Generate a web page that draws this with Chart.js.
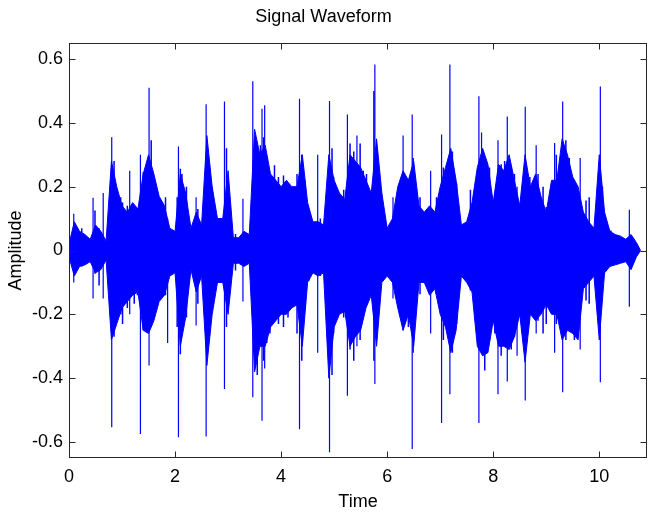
<!DOCTYPE html>
<html>
<head>
<meta charset="utf-8">
<script src="https://cdn.jsdelivr.net/npm/chart.js@4.4.1/dist/chart.umd.min.js"></script>
<style>
html,body{margin:0;padding:0;background:#fff;}
#wrap{width:649px;height:516px;}
</style>
</head>
<body>
<div id="wrap"><canvas id="c" width="649" height="516"></canvas></div>
<script>
const chartTitle = 'Signal Waveform';
const xTitle = 'Time';
const yTitle = 'Amplitude';
const xTicks = [0, 2, 4, 6, 8, 10];
const xTickLabels = ['0', '2', '4', '6', '8', '10'];
const yTicks = [-0.6, -0.4, -0.2, 0, 0.2, 0.4, 0.6];
const yTickLabels = ['-0.6', '-0.4', '-0.2', '0', '0.2', '0.4', '0.6'];

// Dense core of the waveform: envelope per 0.1 s bin
const binTimes = [0.0,0.1,0.2,0.3,0.4,0.5,0.6,0.7,0.8,0.9,1.0,1.1,1.2,1.3,1.4,1.5,1.6,1.7,1.8,1.9,
  2.0,2.1,2.2,2.3,2.4,2.5,2.6,2.7,2.8,2.9,3.0,3.1,3.2,3.3,3.4,3.5,3.6,3.7,3.8,3.9,
  4.0,4.1,4.2,4.3,4.4,4.5,4.6,4.7,4.8,4.9,5.0,5.1,5.2,5.3,5.4,5.5,5.6,5.7,5.8,5.9,
  6.0,6.1,6.2,6.3,6.4,6.5,6.6,6.7,6.8,6.9,7.0,7.1,7.2,7.3,7.4,7.5,7.6,7.7,7.8,7.9,
  8.0,8.1,8.2,8.3,8.4,8.5,8.6,8.7,8.8,8.9,9.0,9.1,9.2,9.3,9.4,9.5,9.6,9.7,9.8,9.9,
  10.0,10.1,10.2,10.3,10.4,10.5,10.6,10.7,10.78];
const binUpper = [0.02,0.09,0.06,0.05,0.035,0.08,0.06,0.03,0.28,0.2,0.14,0.12,0.15,0.13,0.24,0.3,0.24,0.17,0.14,0.07,
  0.06,0.24,0.18,0.07,0.12,0.08,0.36,0.2,0.1,0.1,0.25,0.04,0.04,0.06,0.05,0.38,0.3,0.33,0.24,0.22,
  0.2,0.22,0.2,0.2,0.3,0.15,0.09,0.09,0.08,0.3,0.22,0.18,0.16,0.3,0.28,0.26,0.22,0.18,0.35,0.18,
  0.07,0.1,0.2,0.25,0.22,0.28,0.14,0.12,0.14,0.12,0.2,0.26,0.32,0.22,0.08,0.09,0.15,0.26,0.32,0.27,
  0.15,0.27,0.25,0.3,0.22,0.14,0.3,0.2,0.24,0.17,0.12,0.22,0.22,0.35,0.3,0.23,0.2,0.12,0.09,0.07,
  0.3,0.12,0.06,0.05,0.045,0.035,0.05,0.025,0];
const binLower = [-0.02,-0.08,-0.05,-0.045,-0.035,-0.07,-0.06,-0.03,-0.28,-0.23,-0.18,-0.16,-0.14,-0.13,-0.25,-0.26,-0.22,-0.16,-0.14,-0.08,
  -0.07,-0.3,-0.21,-0.06,-0.13,-0.08,-0.36,-0.2,-0.1,-0.1,-0.2,-0.04,-0.04,-0.05,-0.04,-0.38,-0.3,-0.3,-0.24,-0.22,
  -0.2,-0.2,-0.18,-0.17,-0.3,-0.1,-0.07,-0.08,-0.07,-0.4,-0.24,-0.2,-0.19,-0.3,-0.27,-0.25,-0.18,-0.14,-0.3,-0.1,
  -0.08,-0.1,-0.18,-0.25,-0.2,-0.3,-0.1,-0.1,-0.14,-0.12,-0.2,-0.24,-0.32,-0.25,-0.08,-0.1,-0.13,-0.3,-0.33,-0.32,
  -0.22,-0.3,-0.3,-0.31,-0.27,-0.2,-0.35,-0.2,-0.22,-0.2,-0.17,-0.2,-0.2,-0.28,-0.25,-0.26,-0.28,-0.12,-0.1,-0.08,
  -0.28,-0.07,-0.05,-0.045,-0.04,-0.035,-0.06,-0.02,0];

// Isolated tall transients
const spikeTimes = [0.09,0.454,0.645,0.806,1.145,1.347,1.51,1.86,2.064,2.397,2.586,2.932,3.28,3.466,3.64,3.69,
  4.347,4.69,4.913,5.25,5.43,5.768,6.11,6.3,6.472,6.82,7.026,7.183,7.73,7.78,8.09,8.265,8.45,8.604,8.81,
  9.158,9.31,9.64,10.02,10.567];
const spikeUpper = [0.115,0.165,0.18,0.355,0.25,0.3,0.51,0.1,0.326,0.167,0.458,0.467,0.162,0.53,0.444,0.455,
  0.475,0.3,0.468,0.426,0.36,0.583,0.167,0.36,0.426,0.25,0.363,0.583,0.483,0.37,0.345,0.42,0.2,0.45,0.33,
  0.337,0.467,0.29,0.514,0.128];
const spikeLower = [-0.1,-0.15,-0.15,-0.554,-0.2,-0.575,-0.36,-0.29,-0.585,-0.235,-0.583,-0.434,-0.16,-0.46,-0.533,-0.37,
  -0.56,-0.32,-0.632,-0.455,-0.3,-0.418,-0.15,-0.25,-0.622,-0.26,-0.54,-0.45,-0.54,-0.3,-0.45,-0.41,-0.33,-0.47,-0.26,
  -0.32,-0.444,-0.31,-0.413,-0.176];

// Smaller transients that make the jagged edge of the envelope
const minorTimes = [0.164,0.24,0.49,0.567,0.85,0.88,0.975,1.01,1.1,1.23,1.29,1.4,1.45,1.55,1.64,1.76,1.82,
  2.04,2.1,2.13,2.215,2.43,2.636,2.7,2.79,2.97,3.01,3.14,3.5,3.55,3.61,3.67,3.73,3.79,3.875,3.95,
  4.045,4.13,4.3,4.39,4.45,4.53,4.74,4.96,4.99,5.08,5.18,5.3,5.37,5.49,5.55,5.61,5.705,5.75,5.85,
  6.27,6.4,6.49,6.62,6.71,6.93,7.06,7.12,7.23,7.31,7.365,7.57,7.84,7.93,8.03,8.15,8.215,8.34,8.4,
  8.53,8.69,8.845,8.94,9.0,9.19,9.245,9.37,9.435,9.53,9.75,9.81,9.94,10.06,10.22,10.35];
const minorUpper = [0.068,0.07,0.125,0.07,0.28,0.2,0.167,0.15,0.14,0.125,0.115,0.245,0.24,0.345,0.18,0.146,0.167,
  0.167,0.256,0.24,0.2,0.13,0.21,0.2,0.063,0.32,0.18,0.052,0.31,0.3,0.33,0.355,0.29,0.24,0.267,0.23,
  0.235,0.21,0.24,0.3,0.22,0.125,0.1,0.32,0.23,0.18,0.19,0.335,0.31,0.335,0.25,0.24,0.17,0.5,0.21,
  0.178,0.157,0.29,0.167,0.094,0.167,0.26,0.24,0.31,0.21,0.094,0.19,0.27,0.26,0.178,0.27,0.28,0.26,0.24,
  0.167,0.23,0.24,0.2,0.136,0.3,0.26,0.345,0.29,0.22,0.157,0.167,0.094,0.2,0.063,0.047];
const minorLower = [-0.05,-0.05,-0.073,-0.11,-0.27,-0.21,-0.2,-0.23,-0.18,-0.167,-0.14,-0.25,-0.24,-0.24,-0.137,-0.137,-0.14,
  -0.24,-0.325,-0.24,-0.21,-0.167,-0.2,-0.167,-0.094,-0.24,-0.137,-0.063,-0.26,-0.39,-0.3,-0.345,-0.29,-0.26,-0.21,-0.23,
  -0.24,-0.21,-0.26,-0.345,-0.178,-0.094,-0.08,-0.39,-0.26,-0.2,-0.21,-0.31,-0.345,-0.28,-0.21,-0.157,-0.137,-0.345,-0.115,
  -0.167,-0.24,-0.32,-0.137,-0.094,-0.137,-0.28,-0.24,-0.32,-0.23,-0.094,-0.125,-0.376,-0.28,-0.26,-0.33,-0.28,-0.31,-0.27,
  -0.22,-0.2,-0.22,-0.26,-0.23,-0.23,-0.21,-0.28,-0.24,-0.28,-0.157,-0.167,-0.073,-0.073,-0.042,-0.036];

const upperPts = binTimes.map((t, i) => ({x: t, y: binUpper[i]}));
const lowerPts = binTimes.map((t, i) => ({x: t, y: binLower[i]}));
function strokes(times, ups, lows) {
  const pts = [];
  times.forEach((t, i) => {
    pts.push({x: t, y: ups[i]});
    pts.push({x: t, y: lows[i]});
    pts.push({x: t, y: null});
  });
  return pts;
}
const spikePts = strokes(spikeTimes, spikeUpper, spikeLower);
const minorPts = strokes(minorTimes, minorUpper, minorLower);

const FONT = {family: "'Liberation Sans', Arial, Helvetica, sans-serif", size: 18, weight: 'normal'};
const AXIS_COLOR = '#262626';
const BLUE = '#0000ff';

const framePlugin = {
  id: 'frame',
  afterDatasetsDraw(chart) {
    const {ctx, chartArea: a, scales: {x, y}} = chart;
    ctx.save();
    ctx.strokeStyle = AXIS_COLOR;
    ctx.lineWidth = 1;
    const L = Math.round(a.left) + 0.5, R = Math.round(a.right) - 0.5;
    const T = Math.round(a.top) + 0.5, B = Math.round(a.bottom) - 0.5;
    ctx.strokeRect(L, T, R - L, B - T);
    ctx.beginPath();
    const tl = 6;
    xTicks.forEach(v => {
      const px = Math.round(x.getPixelForValue(v)) + 0.5;
      ctx.moveTo(px, B); ctx.lineTo(px, B - tl);
      ctx.moveTo(px, T); ctx.lineTo(px, T + tl);
    });
    yTicks.forEach(v => {
      const py = Math.round(y.getPixelForValue(v)) + 0.5;
      ctx.moveTo(L, py); ctx.lineTo(L + tl, py);
      ctx.moveTo(R, py); ctx.lineTo(R - tl, py);
    });
    ctx.stroke();
    ctx.restore();
  }
};

new Chart(document.getElementById('c'), {
  type: 'line',
  data: {
    datasets: [
      {data: upperPts, borderColor: BLUE, backgroundColor: BLUE, borderWidth: 1, pointRadius: 0, tension: 0, fill: '+1'},
      {data: lowerPts, borderColor: BLUE, backgroundColor: BLUE, borderWidth: 1, pointRadius: 0, tension: 0, fill: false},
      {data: minorPts, borderColor: BLUE, borderWidth: 1.5, pointRadius: 0, tension: 0, fill: false, spanGaps: false},
      {data: spikePts, borderColor: BLUE, borderWidth: 1.2, pointRadius: 0, tension: 0, fill: false, spanGaps: false}
    ]
  },
  options: {
    responsive: false,
    animation: false,
    devicePixelRatio: 1,
    layout: {padding: {left: 0, right: 2, top: 0, bottom: 0}},
    plugins: {
      legend: {display: false},
      tooltip: {enabled: false},
      title: {display: true, text: chartTitle, color: '#000', font: FONT, padding: {top: 6, bottom: 15.4}}
    },
    scales: {
      x: {
        type: 'linear', min: 0, max: 10.9,
        grid: {display: false, drawTicks: false},
        border: {display: false},
        afterBuildTicks(s) { s.ticks = xTicks.map(v => ({value: v})); },
        afterFit(s) { s.height = 58; },
        ticks: {callback: (v, i) => xTickLabels[i], color: '#000', font: FONT, padding: 8, maxRotation: 0, autoSkip: false},
        title: {display: true, text: xTitle, color: '#000', font: FONT, padding: {top: 0, bottom: 3}}
      },
      y: {
        type: 'linear', min: -0.65, max: 0.65,
        grid: {display: false, drawTicks: false},
        border: {display: false},
        afterBuildTicks(s) { s.ticks = yTicks.map(v => ({value: v})); },
        afterFit(s) { s.width = 69; },
        ticks: {callback: (v, i) => yTickLabels[i], color: '#000', font: FONT, padding: 6, autoSkip: false},
        title: {display: true, text: yTitle, color: '#000', font: FONT, padding: {top: 5, bottom: 0}}
      }
    }
  },
  plugins: [framePlugin]
});
</script>
</body>
</html>
